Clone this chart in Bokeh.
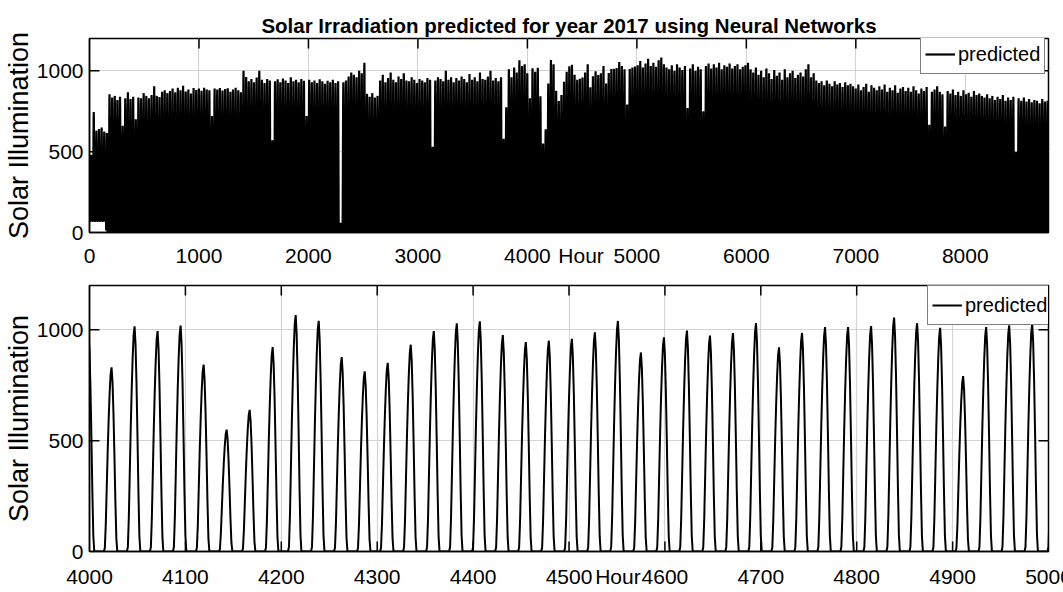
import numpy as np
from bokeh.plotting import figure
from bokeh.layouts import column
from bokeh.models import Range1d, FixedTicker
from bokeh.embed import file_html
from bokeh.resources import INLINE

# ---------------- data ----------------
# daily peak irradiance for each day of 2017 (365 values)
daily_peaks = [
    480, 745, 630, 640, 650, 625, 615, 855, 835, 845,
    820, 840, 660, 830, 868, 825, 840, 700, 835, 830,
    862, 845, 830, 850, 905, 845, 838, 870, 880, 862,
    875, 890, 868, 895, 880, 908, 872, 885, 860, 893,
    882, 890, 876, 895, 885, 880, 720, 890, 884, 893,
    878, 887, 892, 870, 885, 895, 880, 868, 1000, 962,
    935, 950, 930, 958, 1000, 945, 925, 950, 940, 570,
    935, 948, 930, 952, 940, 925, 960, 935, 945, 930,
    950, 938, 720, 945, 930, 940, 925, 948, 935, 920,
    938, 930, 945, 925, 935, 60, 930, 940, 965, 990,
    975, 960, 1000, 985, 1050, 858, 840, 862, 835, 845,
    940, 975, 930, 955, 990, 945, 930, 965, 950, 985,
    940, 935, 960, 945, 925, 950, 940, 930, 955, 945,
    530, 940, 960, 950, 935, 1000, 945, 960, 930, 955,
    940, 965, 950, 930, 980, 945, 960, 935, 990, 950,
    945, 965, 1000, 940, 955, 935, 960, 580, 775, 1010,
    960, 1020, 990, 1065, 1030, 1040,
    985, 831, 1016, 994, 1019, 843, 550, 639, 922, 1067,
    1041, 877, 813, 851, 933, 994, 1029, 1038, 976, 945,
    951, 959, 989, 1040, 898, 966, 997, 974, 985, 1030,
    921, 986, 1012, 1012, 1017, 1055, 1030, 1009, 791, 1012,
    1020, 1027,
    1035, 1060, 1020, 1045, 1075, 1030, 1050, 1025, 1065, 1083, 1040, 1020,
    1010, 1035, 1000, 1040, 1020, 1005, 1030, 770, 1015, 1040,
    1000, 1025, 1010, 750, 1030, 1045, 1015, 1040, 1020, 1050,
    1010, 1035, 1025, 1045, 1015, 1030, 1040, 1010, 1025, 1035,
    1050, 1010, 990, 1020, 975, 1000, 960, 1015, 985, 950,
    1005, 970, 990, 945, 1010, 960, 985, 1000, 955, 975,
    990, 965, 1010, 1040, 960, 985, 940, 925, 935, 910,
    940, 920, 905, 935, 915, 925, 900, 930, 910, 920,
    905, 890, 915, 880, 900, 920, 870, 910, 895, 880,
    905, 885, 915, 870, 895, 880, 910, 865, 890, 900,
    875, 895, 870, 905, 880, 860, 890, 875, 900, 667,
    870, 885, 905, 870, 855, 656, 875, 860, 885, 850,
    870, 845, 880, 855, 865, 840, 875, 850, 860, 845,
    835, 855, 830, 845, 820, 840, 825, 850, 815, 835,
    820, 840, 500, 830, 815, 835, 810, 825, 805, 820,
    815, 800, 825, 810, 815,
]
# relative shape of one day (hour 0..23)
diurnal_profile = [0, 0, 0, 0, 0, 0, 0, 0, 0.02, 0.15, 0.35, 0.55,
                   0.72, 0.86, 0.96, 1.0, 0.92, 0.75, 0.52, 0.27, 0.07, 0, 0, 0]
# first week: night-time prediction does not fall below this level
night_floor_value = 72
night_floor_until_hour = 152

series_name = "predicted"
title_text = "Solar Irradiation predicted for year 2017 using Neural Networks"
x_label = "Hour"
y_label = "Solar Illumination"
top_xticks = [0, 1000, 2000, 3000, 4000, 5000, 6000, 7000, 8000]
bottom_xticks = [4000, 4100, 4200, 4300, 4400, 4500, 4600, 4700, 4800, 4900, 5000]
yticks = [0, 500, 1000]
top_xlabel_at = 4490       # where "Hour" sits in the tick-label row
bottom_xlabel_at = 4551

values = np.outer(np.array(daily_peaks, float), np.array(diurnal_profile)).ravel()
values[:night_floor_until_hour] = np.maximum(values[:night_floor_until_hour], night_floor_value)
hours = np.arange(len(values))

# ---------------- styling ----------------
FONT = "Liberation Sans"
GRID = "#d4d4d4"
W = 1063
BL, BR = 87, 15
TICK_PX = 10


def make_fig(height, x0, x1, xticks, label_at, top_border, bottom_border, lw, standoff, title=None):
    p = figure(width=W, height=height, output_backend="svg", toolbar_location=None,
               x_range=Range1d(x0, x1), y_range=Range1d(0, 1200),
               min_border_left=BL, min_border_right=BR,
               min_border_top=top_border, min_border_bottom=bottom_border,
               title=title)
    p.line(hours, values, color="black", line_width=lw, legend_label=series_name)

    # inward box ticks on all four sides (MATLAB style)
    fw = W - BL - BR
    fh = height - top_border - bottom_border
    dy = TICK_PX * 1200.0 / fh
    dx = TICK_PX * (x1 - x0) / fw
    xt = [t for t in xticks if x0 < t < x1]
    p.segment(x0=xt, y0=[0] * len(xt), x1=xt, y1=[dy] * len(xt), color="black", line_width=1.5)
    p.segment(x0=xt, y0=[1200] * len(xt), x1=xt, y1=[1200 - dy] * len(xt), color="black", line_width=1.5)
    yt = [t for t in yticks if 0 < t < 1200]
    p.segment(x0=[x0] * len(yt), y0=yt, x1=[x0 + dx] * len(yt), y1=yt, color="black", line_width=1.5)
    p.segment(x0=[x1] * len(yt), y0=yt, x1=[x1 - dx] * len(yt), y1=yt, color="black", line_width=1.5)

    xa = p.xaxis[0]
    xa.ticker = FixedTicker(ticks=xticks + [label_at])
    xa.major_label_overrides = {label_at: x_label}
    ya = p.yaxis[0]
    ya.ticker = FixedTicker(ticks=yticks)
    for ax in (xa, ya):
        ax.major_tick_line_color = None
        ax.minor_tick_line_color = None
        ax.major_tick_in = 0
        ax.major_tick_out = 0
        ax.axis_line_width = 1.5
        ax.axis_line_color = "black"
        ax.major_label_text_font = FONT
        ax.major_label_text_font_size = "21px"
        ax.major_label_text_color = "black"
    xa.major_label_standoff = standoff
    ya.major_label_standoff = 6
    ya.axis_label = y_label
    ya.axis_label_text_font = FONT
    ya.axis_label_text_font_size = "27px"
    ya.axis_label_text_font_style = "normal"
    ya.axis_label_text_color = "black"
    ya.axis_label_standoff = 0

    p.xgrid.ticker = FixedTicker(ticks=xticks)
    p.ygrid.ticker = FixedTicker(ticks=yticks)
    p.xgrid.grid_line_color = GRID
    p.ygrid.grid_line_color = GRID
    p.xgrid.grid_line_width = 1.2
    p.ygrid.grid_line_width = 1.2
    p.outline_line_color = "black"
    p.outline_line_width = 1.5
    p.background_fill_color = "white"
    p.border_fill_color = "white"

    lg = p.legend[0]
    lg.label_text_font = FONT
    lg.label_text_font_size = "20px"
    lg.label_text_color = "black"
    lg.glyph_width = 30
    lg.glyph_height = 30
    lg.label_height = 30
    lg.label_standoff = 3
    lg.padding = 4
    lg.margin = 0
    lg.border_line_color = "black"
    lg.border_line_width = 1.5
    lg.background_fill_alpha = 1.0
    return p


top_fig = make_fig(270, 0, 8760, top_xticks, top_xlabel_at, 38, 38, 2.2, 11, title=title_text)
top_fig.title.text_font = FONT
top_fig.title.text_font_size = "20.5px"
top_fig.title.text_font_style = "bold"
top_fig.title.text_color = "black"
top_fig.title.align = "center"
top_fig.title.standoff = 4
top_fig.legend[0].location = (831, 158)

bot_fig = make_fig(322, 4000, 5000, bottom_xticks, bottom_xlabel_at, 15, 41, 2, 13)
bot_fig.legend[0].location = (838, 226)

layout = column(top_fig, bot_fig, spacing=0)
open("out.html", "w").write(file_html(layout, INLINE))
